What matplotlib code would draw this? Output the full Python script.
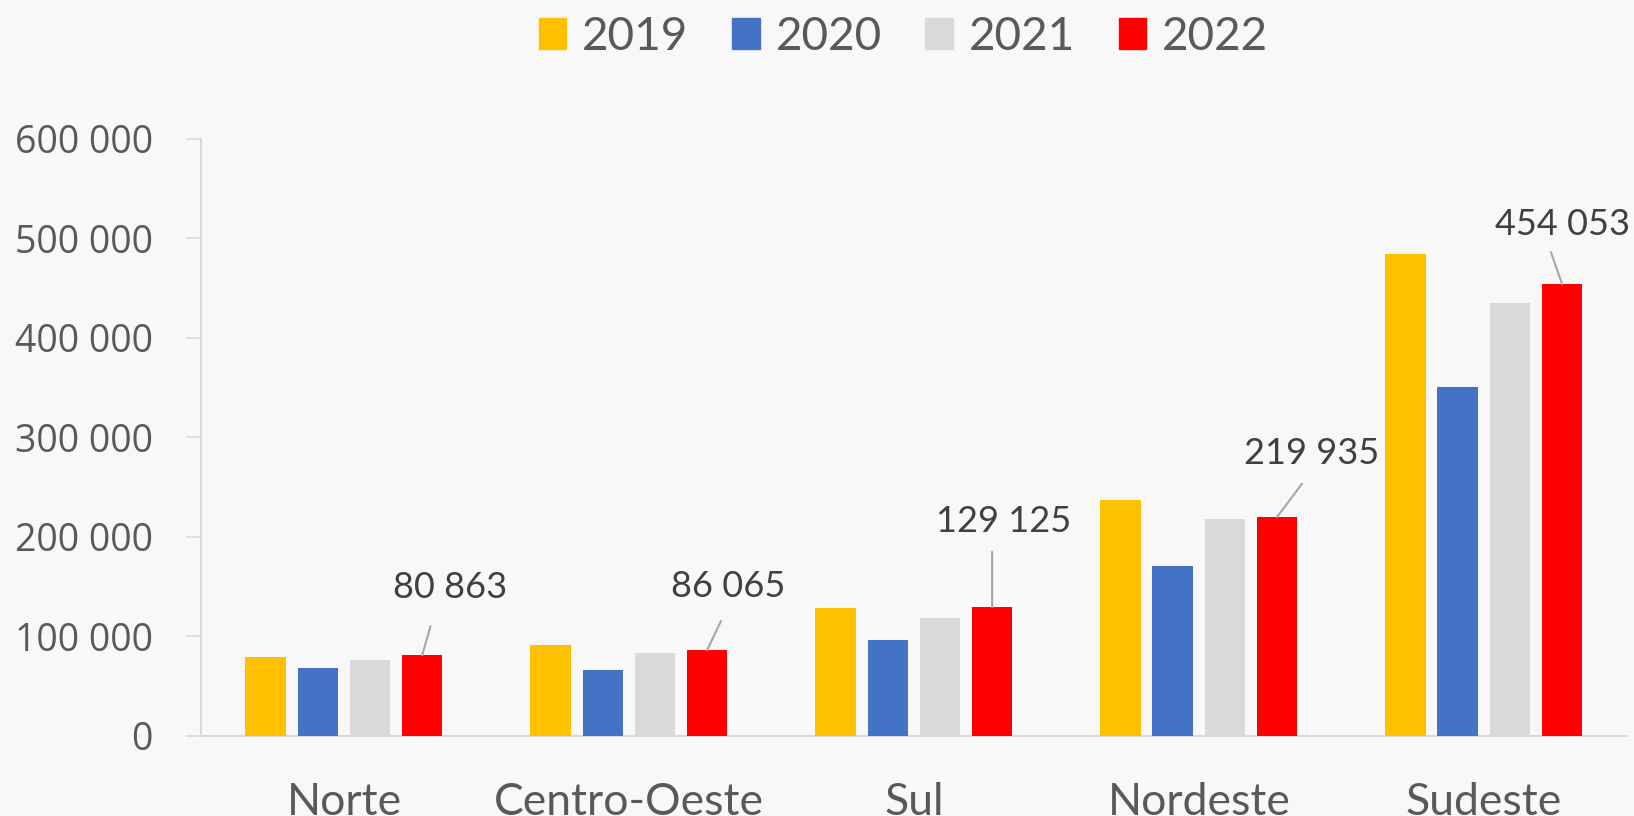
import matplotlib.pyplot as plt
from matplotlib.patches import Patch

# Regions and yearly values
regions = ["Norte", "Centro-Oeste", "Sul", "Nordeste", "Sudeste"]
years = ["2019", "2020", "2021", "2022"]
v2019 = [78750, 91600, 128900, 237400, 484200]
v2020 = [67900, 65600, 96300, 170600, 351100]
v2021 = [76400, 83200, 118300, 217900, 434900]
v2022 = [80863, 86065, 129125, 219935, 454053]
colors = ["#FFC000", "#4472C4", "#D9D9D9", "#FF0000"]

# label offsets (points) for the 2022 data labels and their leader line ends
label_off = [(20, 49), (15, 46), (8, 62), (25, 46), (0, 43)]
line_end = [(6, 21), (10, 21), (0, 40), (18, 24), (-8, 23)]

bg = "#F8F8F8"
fig = plt.figure(figsize=(16.34, 8.16), dpi=100, facecolor=bg)
ax = fig.add_axes([0.1233, 0.0984, 0.872, 0.7313], facecolor=bg)

series = [v2019, v2020, v2021, v2022]
step = 0.183
width = 0.1425
x = range(len(regions))
for i, (vals, c) in enumerate(zip(series, colors)):
    off = (i - 1.5) * step
    ax.bar([xi + off for xi in x], vals, width=width, color=c, zorder=3)

# data labels for 2022
for xi, v, (tx, ty), (lx, ly) in zip(x, v2022, label_off, line_end):
    bx = xi + 1.5 * step
    ax.annotate(f"{v:,}".replace(",", " "), xy=(bx, v), xytext=(tx, ty),
                textcoords="offset points", ha="center", va="center",
                fontsize=26, family="Lato", color="#404040", annotation_clip=False)
    ax.annotate("", xy=(bx, v), xytext=(lx, ly), textcoords="offset points",
                arrowprops=dict(arrowstyle="-", color="#A6A6A6", lw=1.5,
                                shrinkA=0, shrinkB=0))

ax.set_xlim(-0.5, 4.5)
ax.set_ylim(0, 600000)
ax.set_yticks(range(0, 600001, 100000))
ax.set_yticklabels([f"{t:,}".replace(",", " ") for t in range(0, 600001, 100000)],
                   family="Open Sans", fontsize=27, color="#595959")
ax.set_xticks(list(x))
ax.set_xticklabels(regions, family="Lato", fontsize=32, color="#595959")
ax.tick_params(axis="x", length=0, pad=33)
ax.tick_params(axis="y", length=11, width=1.2, color="#D9D9D9", pad=24)
for s in ["top", "right"]:
    ax.spines[s].set_visible(False)
for s in ["left", "bottom"]:
    ax.spines[s].set_color("#D9D9D9")
    ax.spines[s].set_linewidth(1.5)

handles = [Patch(color=c, label=y) for c, y in zip(colors, years)]
fig.legend(handles=handles, loc="center", bbox_to_anchor=(0.553, 0.955), ncol=4,
           frameon=False, prop={"family": "Lato", "size": 33},
           handlelength=0.6, handleheight=0.65, handletextpad=0.35,
           columnspacing=0.95, labelcolor="#595959")

fig.savefig("out.png", dpi=100, facecolor=bg)
